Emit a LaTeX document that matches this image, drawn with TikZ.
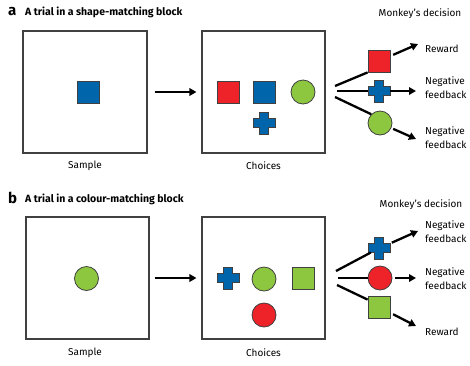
\documentclass[tikz,border=0pt]{standalone}
\usepackage{fontspec}
\setmainfont{Fira Sans}
\usetikzlibrary{arrows.meta}
\usetikzlibrary{calc}

\definecolor{cred}{RGB}{237,35,41}
\definecolor{cblue}{RGB}{0,101,171}
\definecolor{cgreen}{RGB}{141,198,63}
\definecolor{cedge}{RGB}{64,64,64}

\tikzset{
  screen/.style={draw=cedge, line width=1.1pt, inner sep=0pt},
  stim/.style={draw=cedge, line width=0.8pt, inner sep=0pt},
  sqr/.style={stim, minimum size=22pt},
  dot/.style={stim, circle, minimum size=24pt},
  slot/.style={inner sep=0pt, minimum size=22pt},
  fan/.style={line width=2.3pt},
  go/.style={line width=2.3pt, -{Triangle[length=7pt,width=7.5pt]}},
  lbl/.style={font=\fontsize{10}{14}\selectfont, inner sep=0pt},
  ttl/.style={font=\fontsize{10.5}{12}\selectfont\bfseries, inner sep=0pt, anchor=west},
  tag/.style={font=\fontsize{15}{15}\selectfont\bfseries, inner sep=0pt, anchor=west},
}

% cross stimulus: name, position
\newcommand{\plusstim}[2]{%
  \node[slot] (#1) at (#2) {};
  \draw[stim, fill=cblue, shift={(#1.center)}] (-4.5,-11) -- (4.5,-11) -- (4.5,-4.5) -- (11,-4.5) -- (11,4.5) -- (4.5,4.5) -- (4.5,11) -- (-4.5,11) -- (-4.5,4.5) -- (-11,4.5) -- (-11,-4.5) -- (-4.5,-4.5) -- cycle ;
}

\begin{document}
\begin{tikzpicture}[x=1pt,y=1pt,yscale=-1,xscale=1]
\useasboundingbox (0,0) rectangle (470,365);

%%%%%%%%%% panel a
% Text Node
\node[tag] (tagA) at (8,12) {a};
\node[ttl] (ttlA) at (25,12) {A trial in a shape-matching block};
\node[lbl] (mdA) at (420,14) {Monkey’s decision};

%Shape: Screens
\node[screen, minimum width=124pt, minimum height=122pt] (smpA) at (85,92) {};
\node[screen, minimum width=123pt, minimum height=122pt] (chA) at (263.5,92) {};
\node[lbl] (smpAl) at (85,166) {Sample};
\node[lbl] (chAl) at (263.5,166) {Choices};
\draw[go, shorten <=7pt, shorten >=5pt] (smpA.east) -- (chA.west);

%Shape: Stimuli
\node[sqr, fill=cblue] (sA) at (88,92) {};
\node[sqr, fill=cred] (c1A) at (228,92) {};
\node[sqr, fill=cblue] (c2A) at (264,92) {};
\node[dot, fill=cgreen] (c3A) at (303,92) {};
\plusstim{c4A}{264,123}

% decision
\node[sqr, fill=cred] (rdA) at (379,61) {};
\plusstim{crA}{379,91}
\node[dot, fill=cgreen] (gcA) at (380,123) {};

\coordinate (fkA1) at (335,86);
\coordinate (fkA2) at (337,91);
\coordinate (fkA3) at (335,97);
\draw[fan] (fkA1) -- (rdA.south west);
\draw[fan] (fkA2) -- (crA.west);
\draw[fan] (fkA3) -- (gcA.north west);

\coordinate (tpA1) at (418,44);
\coordinate (tpA2) at (416,91);
\coordinate (tpA3) at (416,139);
\draw[go, shorten <=3pt] (rdA) -- (tpA1);
\draw[go] (crA.east) -- (tpA2);
\draw[go, shorten <=2pt] (gcA) -- (tpA3);

\node[lbl, anchor=west] (oA1) at (425,49) {Reward};
\node[lbl, anchor=west, align=left] (oA2) at (425,88) {Negative\\feedback};
\node[lbl, anchor=west, align=left] (oA3) at (425,138) {Negative\\feedback};

%%%%%%%%%% panel b
% Text Node
\node[tag] (tagB) at (8,198) {b};
\node[ttl] (ttlB) at (25,199) {A trial in a colour-matching block};
\node[lbl] (mdB) at (421,205) {Monkey’s decision};

%Shape: Screens
\node[screen, minimum width=123pt, minimum height=122pt] (smpB) at (87.5,278) {};
\node[screen, minimum width=123pt, minimum height=122pt] (chB) at (263.5,278) {};
\node[lbl] (smpBl) at (85,353) {Sample};
\node[lbl] (chBl) at (263.5,353) {Choices};
\draw[go, shorten <=5pt, shorten >=5pt] (smpB.east) -- (chB.west);

%Shape: Stimuli
\node[dot, fill=cgreen] (sB) at (86.5,278.5) {};
\plusstim{c1B}{228,278}
\node[dot, fill=cgreen] (c2B) at (264,279) {};
\node[sqr, fill=cgreen] (c3B) at (303,278) {};
\node[dot, fill=cred] (c4B) at (264,315) {};

% decision
\plusstim{crB}{379,248}
\node[dot, fill=cred] (rcB) at (380,278) {};
\node[sqr, fill=cgreen] (gsB) at (379,307) {};

\coordinate (fkB1) at (336,271);
\coordinate (fkB2) at (338,278);
\coordinate (fkB3) at (337,285);
\draw[fan] (fkB1) -- ($(crB.west)+(3,4.5)$);
\draw[fan] (fkB2) -- (rcB.west);
\draw[fan] (fkB3) -- ($(gsB.north west)+(0,4)$);

\coordinate (tpB1) at (418,231);
\coordinate (tpB2) at (416,278);
\coordinate (tpB3) at (416,326);
\draw[go, shorten <=2pt] ($(crB.center)+(11,-4.5)$) -- (tpB1);
\draw[go, shorten <=3pt] (rcB.east) -- (tpB2);
\draw[go, shorten <=3pt] (gsB) -- (tpB3);

\node[lbl, anchor=west, align=left] (oB1) at (425,232) {Negative\\feedback};
\node[lbl, anchor=west, align=left] (oB2) at (425,279) {Negative\\feedback};
\node[lbl, anchor=west] (oB3) at (425,332) {Reward};
\end{tikzpicture}
\end{document}
